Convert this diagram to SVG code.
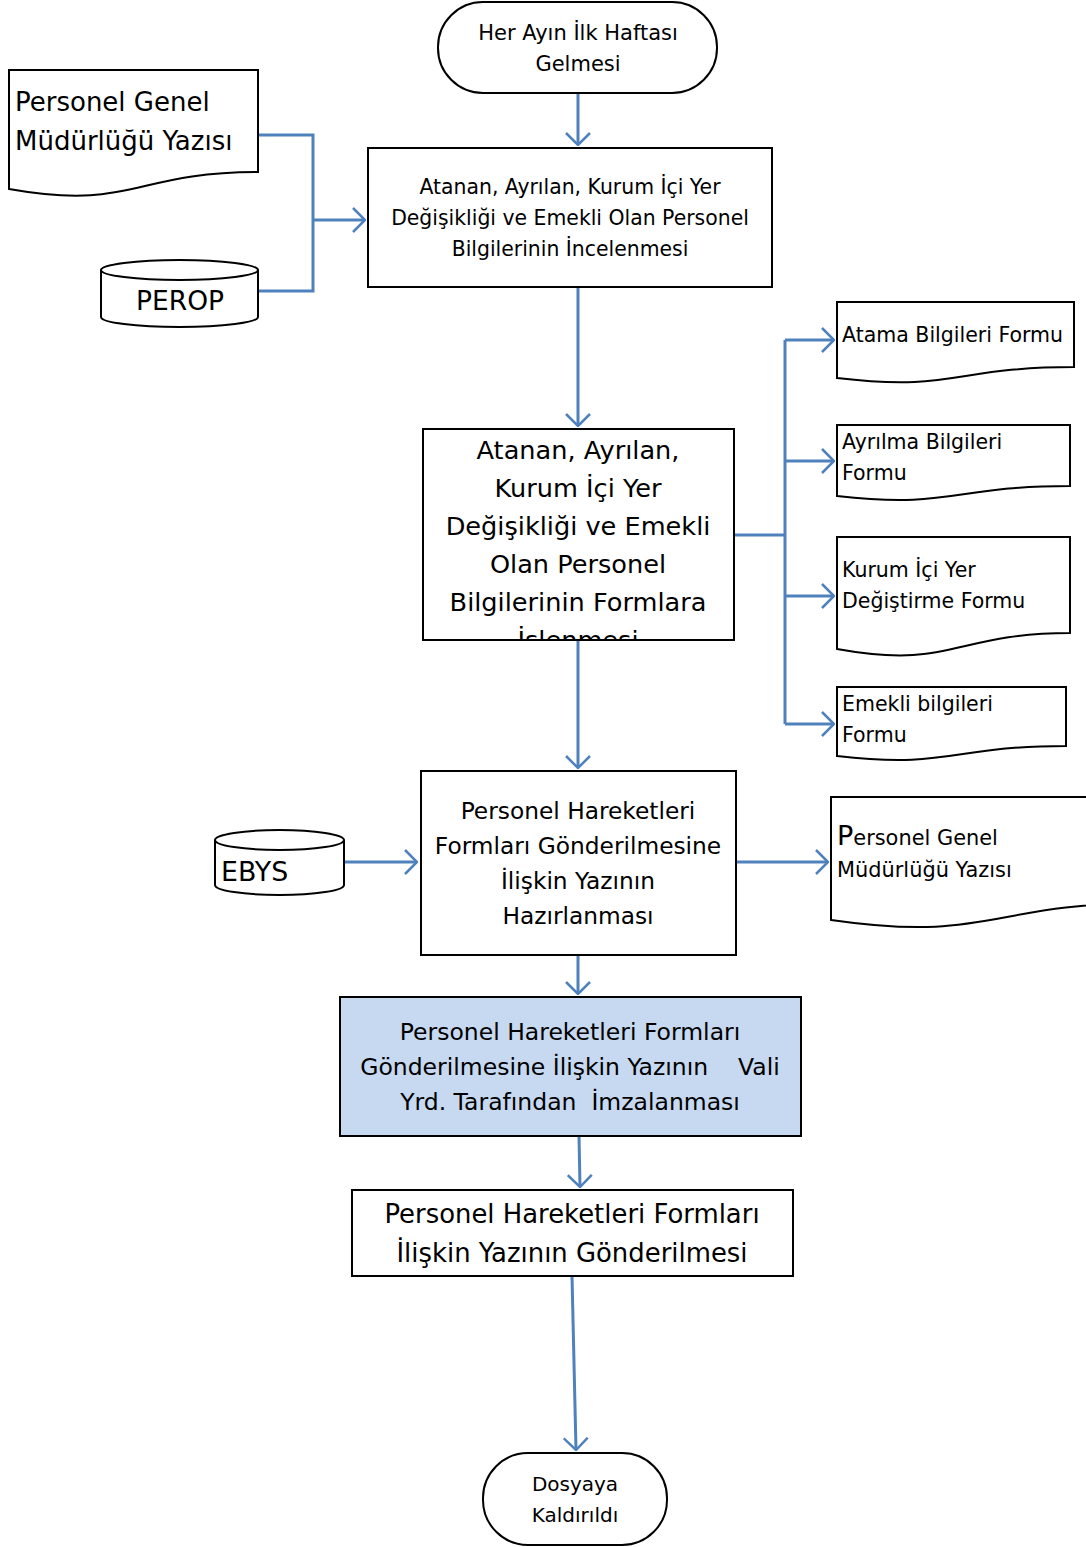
<svg xmlns="http://www.w3.org/2000/svg" width="1086" height="1547" viewBox="0 0 1086 1547">
<style>
  .shape { fill: #ffffff; stroke: #000000; stroke-width: 2; }
  .blue { fill: #c6d9f1; stroke: #000000; stroke-width: 2; }
  .t { font-family: "DejaVu Sans", Verdana, sans-serif; fill: #000000; }
  .c { text-anchor: middle; }
  .conn { fill: none; stroke: #4f81bd; stroke-width: 3; }
</style>
<defs>
  <marker id="ah" viewBox="0 0 14 26" refX="13" refY="13" markerWidth="14" markerHeight="26" markerUnits="userSpaceOnUse" orient="auto">
    <path d="M1,1 L13,13 L1,25" fill="none" stroke="#4f81bd" stroke-width="2.5"/>
  </marker>
  <clipPath id="clipBox2"><rect x="423" y="429" width="311" height="211"/></clipPath>
</defs>
<rect width="1086" height="1547" fill="#ffffff"/>

<g id="connectors">
  <path class="conn" d="M578,93 V145" marker-end="url(#ah)"/>
  <path class="conn" d="M258,135 H313 V291 H258"/>
  <path class="conn" d="M313,220 H365" marker-end="url(#ah)"/>
  <path class="conn" d="M578,287 V426" marker-end="url(#ah)"/>
  <path class="conn" d="M734,535 H785"/>
  <path class="conn" d="M785,340 V724"/>
  <path class="conn" d="M785,340 H834" marker-end="url(#ah)"/>
  <path class="conn" d="M785,461 H834" marker-end="url(#ah)"/>
  <path class="conn" d="M785,596 H834" marker-end="url(#ah)"/>
  <path class="conn" d="M785,724 H834" marker-end="url(#ah)"/>
  <path class="conn" d="M578,640 V768" marker-end="url(#ah)"/>
  <path class="conn" d="M344,862 H417" marker-end="url(#ah)"/>
  <path class="conn" d="M736,862 H828" marker-end="url(#ah)"/>
  <path class="conn" d="M578,955 V994" marker-end="url(#ah)"/>
  <path class="conn" d="M579,1136 L580,1187" marker-end="url(#ah)"/>
  <path class="conn" d="M572,1276 L576,1450" marker-end="url(#ah)"/>
</g>

<g id="start">
  <rect class="shape" x="438" y="2" width="279" height="91" rx="45" ry="45"/>
  <text class="t c" font-size="21" x="578" y="40">Her Ayın İlk Haftası</text>
  <text class="t c" font-size="21" x="578" y="71">Gelmesi</text>
</g>

<g id="doc-pgm-left">
  <path class="shape" d="M9,70 H258 V172 C133,172 133,211 9,189 Z"/>
  <text class="t" font-size="26" x="15" y="111">Personel Genel</text>
  <text class="t" font-size="26" x="15" y="150">Müdürlüğü Yazısı</text>
</g>

<g id="perop">
  <path class="shape" d="M101,270 V317 A78.5,10 0 0 0 258,317 V270"/>
  <ellipse class="shape" cx="179.5" cy="270" rx="78.5" ry="10"/>
  <text class="t c" font-size="26.5" x="180" y="310">PEROP</text>
</g>

<g id="box1">
  <rect class="shape" x="368" y="148" width="404" height="139"/>
  <text class="t c" font-size="20.4" x="570" y="194">Atanan, Ayrılan, Kurum İçi Yer</text>
  <text class="t c" font-size="20.4" x="570" y="225">Değişikliği ve Emekli Olan Personel</text>
  <text class="t c" font-size="20.4" x="570" y="256">Bilgilerinin İncelenmesi</text>
</g>

<g id="box2">
  <rect class="shape" x="423" y="429" width="311" height="211"/>
  <g clip-path="url(#clipBox2)">
    <text class="t c" font-size="25.6" x="578" y="459">Atanan, Ayrılan,</text>
    <text class="t c" font-size="25.6" x="578" y="497">Kurum İçi Yer</text>
    <text class="t c" font-size="25.6" x="578" y="535">Değişikliği ve Emekli</text>
    <text class="t c" font-size="25.6" x="578" y="573">Olan Personel</text>
    <text class="t c" font-size="25.6" x="578" y="611">Bilgilerinin Formlara</text>
    <text class="t c" font-size="25.6" x="578" y="649">İşlenmesi</text>
  </g>
</g>

<g id="doc-atama">
  <path class="shape" d="M837,302 H1074 V367 C955,367 955,392 837,378 Z"/>
  <text class="t" font-size="20.5" x="842" y="342">Atama Bilgileri Formu</text>
</g>

<g id="doc-ayrilma">
  <path class="shape" d="M837,425 H1070 V486 C953,486 953,509 837,496 Z"/>
  <text class="t" font-size="20.5" x="842" y="449">Ayrılma Bilgileri</text>
  <text class="t" font-size="20.5" x="842" y="480">Formu</text>
</g>

<g id="doc-kurum">
  <path class="shape" d="M837,537 H1070 V633 C953,633 953,670 837,649 Z"/>
  <text class="t" font-size="20.5" x="842" y="577">Kurum İçi Yer</text>
  <text class="t" font-size="20.5" x="842" y="608">Değiştirme Formu</text>
</g>

<g id="doc-emekli">
  <path class="shape" d="M837,687 H1066 V746 C951,746 951,769 837,756 Z"/>
  <text class="t" font-size="20.5" x="842" y="711">Emekli bilgileri</text>
  <text class="t" font-size="20.5" x="842" y="742">Formu</text>
</g>

<g id="ebys">
  <path class="shape" d="M215,840 V885 A64.5,10 0 0 0 344,885 V840"/>
  <ellipse class="shape" cx="279.5" cy="840" rx="64.5" ry="10"/>
  <text class="t" font-size="26.8" x="221" y="881">EBYS</text>
</g>

<g id="box3">
  <rect class="shape" x="421" y="771" width="315" height="184"/>
  <text class="t c" font-size="23.3" x="578" y="819">Personel Hareketleri</text>
  <text class="t c" font-size="23.3" x="578" y="854">Formları Gönderilmesine</text>
  <text class="t c" font-size="23.3" x="578" y="889">İlişkin Yazının</text>
  <text class="t c" font-size="23.3" x="578" y="924">Hazırlanması</text>
</g>

<g id="doc-pgm-right">
  <path class="shape" d="M831,797 H1150 V903 C990,903 990,943 831,920 Z"/>
  <text class="t" font-size="20.9" x="837" y="845"><tspan font-size="27">P</tspan>ersonel Genel</text>
  <text class="t" font-size="20.9" x="837" y="877">Müdürlüğü Yazısı</text>
</g>

<g id="box4">
  <rect class="blue" x="340" y="997" width="461" height="139"/>
  <text class="t c" font-size="23.5" x="570" y="1040" xml:space="preserve">Personel Hareketleri Formları</text>
  <text class="t c" font-size="23.5" x="570" y="1075" xml:space="preserve">Gönderilmesine İlişkin Yazının    Vali</text>
  <text class="t c" font-size="23.5" x="570" y="1110" xml:space="preserve">Yrd. Tarafından  İmzalanması</text>
</g>

<g id="box5">
  <rect class="shape" x="352" y="1190" width="441" height="86"/>
  <text class="t c" font-size="25.9" x="572" y="1223">Personel Hareketleri Formları</text>
  <text class="t c" font-size="25.9" x="572" y="1262">İlişkin Yazının Gönderilmesi</text>
</g>

<g id="end">
  <rect class="shape" x="483" y="1453" width="184" height="92" rx="45" ry="45"/>
  <text class="t c" font-size="20" x="575" y="1491">Dosyaya</text>
  <text class="t c" font-size="20" x="575" y="1522">Kaldırıldı</text>
</g>
</svg>
